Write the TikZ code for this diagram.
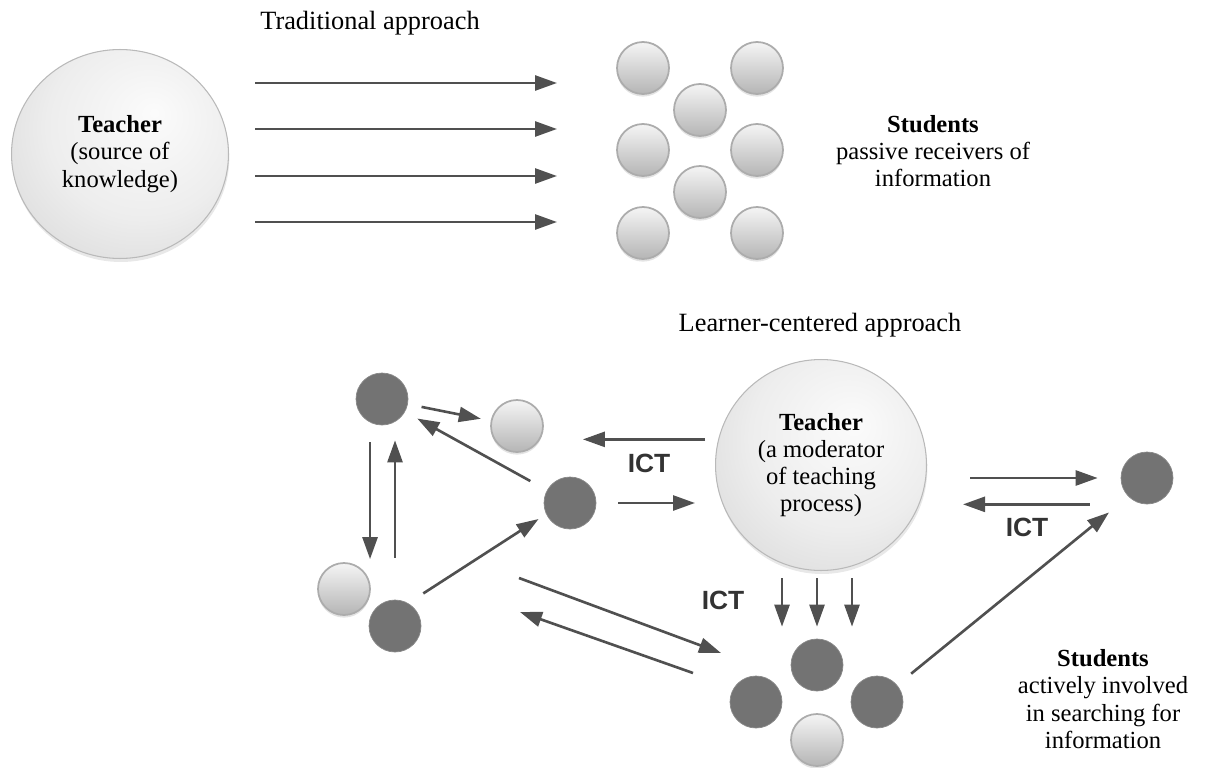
\documentclass[tikz,border=0pt]{standalone}
\usepackage{fontspec}
\setmainfont{Liberation Serif}
\newfontfamily\ictfont{Liberation Sans}
\usepackage{tikz}
\usetikzlibrary{arrows.meta,shapes.geometric,shadows}
\definecolor{arrowgray}{RGB}{80,80,80}
\definecolor{darkballgray}{RGB}{115,115,115}
\pgfdeclareradialshading{teachershade}{\pgfpoint{8bp}{10bp}}{color(0bp)=(gray!3); color(22bp)=(gray!14); color(45bp)=(gray!36); color(64bp)=(gray!46)}
\tikzset{
	teacher/.style={circle, minimum size=4.22cm, draw=gray!55, line width=0.6pt, shading=teachershade, align=center, font=\fontsize{14}{15.5}\selectfont, drop shadow={opacity=0.18, shadow xshift=0.5pt, shadow yshift=-2pt}},
	lightball/.style={circle, minimum size=1.04cm, draw=gray!65, line width=1pt, top color=gray!8, bottom color=gray!58, drop shadow={opacity=0.22, shadow xshift=0pt, shadow yshift=-1.5pt}},
	darkball/.style={circle, minimum size=1.04cm, fill=darkballgray, draw=darkballgray!85!white},
	flow/.style={draw=arrowgray, line width=1.5pt, -{Triangle[length=0.44cm, width=0.3cm]}},
	ict/.style={font=\ictfont\bfseries\fontsize{15}{17}\selectfont, text=black!80},
	caption/.style={align=center, font=\fontsize{14}{15.5}\selectfont},
	heading/.style={font=\fontsize{15}{18}\selectfont}
}

\begin{document}
\begin{tikzpicture}[x=0.02cm, y=-0.02cm]
			\useasboundingbox (0,0) rectangle (1213,767);
			% traditional approach
			\node[heading]	(H1)	at (370,23)		{Traditional approach};
			\node[teacher, ellipse, minimum width=4.34cm, minimum height=4.18cm] (T1) at (120,154) {\textbf{Teacher}\\(source of\\knowledge)};
			\node[lightball]	(S1)	at (643,68)		{};
			\node[lightball]	(S2)	at (757,68)		{};
			\node[lightball]	(S3)	at (700,110)	{};
			\node[lightball]	(S4)	at (643,150)	{};
			\node[lightball]	(S5)	at (757,150)	{};
			\node[lightball]	(S6)	at (700,192)	{};
			\node[lightball]	(S7)	at (643,233)	{};
			\node[lightball]	(S8)	at (757,233)	{};
			\node[caption]	(N1)	at (933,151)	{\textbf{Students}\\passive receivers of\\information};
			\coordinate (a1) at (255,83);		\coordinate (b1) at (557,83);
			\coordinate (a2) at (255,129);	\coordinate (b2) at (557,129);
			\coordinate (a3) at (255,176);	\coordinate (b3) at (557,176);
			\coordinate (a4) at (255,222);	\coordinate (b4) at (557,222);
			%
			\draw[flow]		(a1)	to (b1);
			\draw[flow]		(a2)	to (b2);
			\draw[flow]		(a3)	to (b3);
			\draw[flow]		(a4)	to (b4);
			% learner-centered approach
			\node[heading]	(H2)	at (820,325)	{Learner-centered approach};
			\node[teacher]	(T2)	at (821,465)	{\textbf{Teacher}\\(a moderator\\of teaching\\process)};
			\node[darkball]		(A)		at (382,399)	{};
			\node[lightball]	(B)		at (517,426)	{};
			\node[darkball]		(C)		at (570,503)	{};
			\node[lightball]	(D)		at (344,589)	{};
			\node[darkball]		(E)		at (395,626)	{};
			\node[darkball]		(Q)		at (1147,478)	{};
			\node[darkball]		(P)		at (817,665)	{};
			\node[darkball]		(L)		at (756,702)	{};
			\node[darkball]		(R)		at (877,702)	{};
			\node[lightball]	(M)		at (817,740)	{};
			\node[ict]		(I1)	at (649,463)	{ICT};
			\node[ict]		(I2)	at (723,600)	{ICT};
			\node[ict]		(I3)	at (1027,527)	{ICT};
			\node[caption]	(N2)	at (1103,699)	{\textbf{Students}\\actively involved\\in searching for\\information};
			\coordinate (c1) at (519,578);	\coordinate (c2) at (721,653);
			\coordinate (c3) at (693,673);	\coordinate (c4) at (520,612);
			\coordinate (d1) at ([xshift=-0.7cm]P.north);
			\coordinate (d2) at (P.north);
			\coordinate (d3) at ([xshift=0.7cm]P.north);
			%
			\draw[flow, shorten <=0.28cm, shorten >=0.2cm]		(A)			to (B);
			\draw[flow, shorten <=0.38cm, shorten >=0.28cm]		(C)			to (A);
			\draw[flow, shorten <=0.26cm, shorten >=0.78cm]		(T2.166)	to (T2.166 -| B.east);
			\draw[flow, shorten <=0.44cm, shorten >=0.4cm]		(C.east)	to (C.east -| T2.west);
			\draw[flow, shorten <=0.4cm, shorten >=0.06cm]		(A.243)		to (A.243 |- D.north);
			\draw[flow, shorten <=0.84cm, shorten >=0.3cm]		(E.north)	to (E.north |- A.south);
			\draw[flow, shorten <=0.36cm, shorten >=0.18cm]		(E.60)		to (C.205);
			\draw[flow]		(c1)	to (c2);
			\draw[flow]		(c3)	to (c4);
			\draw[flow, shorten <=0.14cm, shorten >=0.24cm]		(d1 |- T2.south)	to (d1);
			\draw[flow, shorten <=0.14cm, shorten >=0.24cm]		(d2 |- T2.south)	to (d2);
			\draw[flow, shorten <=0.14cm, shorten >=0.24cm]		(d3 |- T2.south)	to (d3);
			\draw[flow, shorten <=0.86cm, shorten >=0.46cm]		(Q.west -| T2.east)	to (Q.west);
			\draw[flow, shorten <=0.62cm, shorten >=0.72cm]		(Q.south -| Q.west)	to (Q.south -| T2.east);
			\draw[flow, shorten <=0.36cm, shorten >=0.5cm]		(R.40)		to (Q.225);
		\end{tikzpicture}
\end{document}
